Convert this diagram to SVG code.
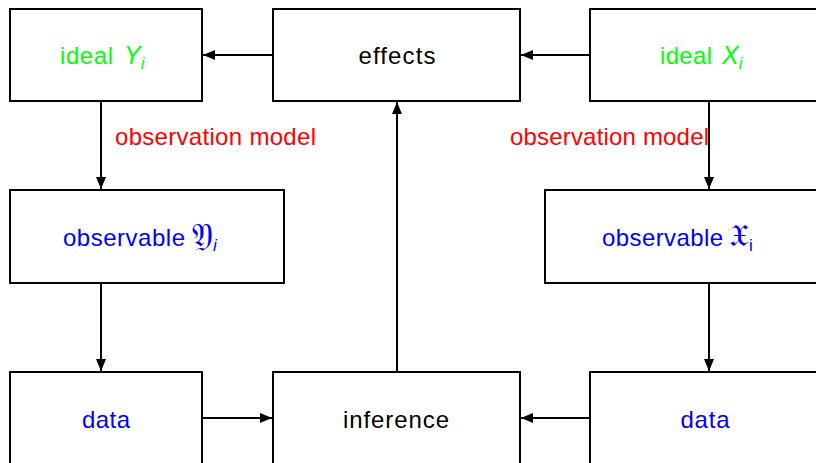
<svg xmlns="http://www.w3.org/2000/svg" width="816" height="463" viewBox="0 0 816 463">
<style>
.box{fill:#fff;stroke:#000;stroke-width:2}
.t{font-family:"Liberation Sans","DejaVu Sans",sans-serif;font-size:24px;text-anchor:middle}
.s{text-anchor:start}
.g{fill:#00ff00}.b{fill:#0000ff}.k{fill:#000}.r{fill:#ff0000}
.e{stroke:#000;stroke-width:2;fill:none;marker-end:url(#ah)}
.it{font-style:italic}
</style>
<defs>
<marker id="ah" viewBox="0 0 12 10" refX="12" refY="5" markerWidth="12" markerHeight="10" markerUnits="userSpaceOnUse" orient="auto">
<path d="M0,0 L12,5 L0,10 z" fill="#000"/>
</marker>
</defs>
<rect width="816" height="463" fill="#fff"/>
<g id="edges">
<line class="e" x1="273" y1="55" x2="203" y2="55"/>
<line class="e" x1="590" y1="55" x2="521" y2="55"/>
<line class="e" x1="101" y1="101" x2="101" y2="189"/>
<line class="e" x1="101" y1="283" x2="101" y2="371"/>
<line class="e" x1="709" y1="101" x2="709" y2="189"/>
<line class="e" x1="709" y1="283" x2="709" y2="371"/>
<line class="e" x1="397" y1="372" x2="397" y2="102"/>
<line class="e" x1="202" y1="418" x2="272" y2="418"/>
<line class="e" x1="590" y1="418" x2="521" y2="418"/>
</g>
<g id="labels">
<text class="t s r" x="115" y="145" textLength="201">observation model</text>
<text class="t s r" x="510" y="145" textLength="199">observation model</text>
</g>
<g id="idealY">
<rect class="box" x="10" y="9" width="192" height="92"/>
<text class="t s g" x="60" y="64"><tspan textLength="53">ideal</tspan><tspan class="it" x="124" font-size="25">Y</tspan><tspan class="it" font-size="17" dy="5">i</tspan></text>
</g>
<g id="effects">
<rect class="box" x="273" y="9" width="247" height="92"/>
<text class="t k" x="397" y="64" textLength="77">effects</text>
</g>
<g id="idealX">
<rect class="box" x="590" y="9" width="240" height="92"/>
<text class="t s g" x="660" y="64"><tspan textLength="52">ideal</tspan><tspan class="it" x="722" font-size="25">X</tspan><tspan class="it" font-size="17" dy="5">i</tspan></text>
</g>
<g id="observableY">
<rect class="box" x="10" y="190" width="274" height="93"/>
<text class="t s b" x="63" y="246"><tspan textLength="122">observable</tspan><tspan x="192" font-size="32">𝔜</tspan><tspan class="it" font-size="17" dy="5">i</tspan></text>
</g>
<g id="observableX">
<rect class="box" x="545" y="190" width="290" height="93"/>
<text class="t s b" x="602" y="246"><tspan textLength="121">observable</tspan><tspan x="729" font-size="32">𝔛</tspan><tspan font-size="17" dy="5">i</tspan></text>
</g>
<g id="dataY">
<rect class="box" x="10" y="372" width="192" height="100"/>
<text class="t b" x="106" y="428" textLength="48">data</text>
</g>
<g id="inference">
<rect class="box" x="273" y="372" width="247" height="100"/>
<text class="t k" x="396" y="428" textLength="106">inference</text>
</g>
<g id="dataX">
<rect class="box" x="590" y="372" width="240" height="100"/>
<text class="t b" x="705" y="428" textLength="49">data</text>
</g>
</svg>
